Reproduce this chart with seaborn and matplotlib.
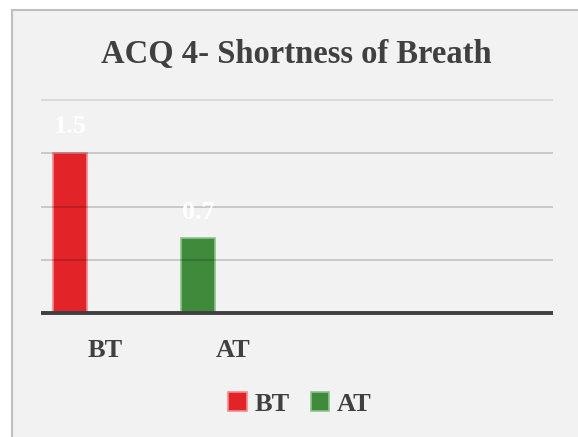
import matplotlib
matplotlib.use("Agg")
import matplotlib.pyplot as plt
import seaborn as sns
from matplotlib.patches import Rectangle, Patch

categories = ["BT", "AT"]
values = [1.5, 0.7]
title = "ACQ 4- Shortness of Breath"
yticks = [0, 0.5, 1.0, 1.5, 2.0]

fill_colors = ["#e22327", "#3f8a3b"]
edge_colors = ["#f28b8d", "#8fc28c"]

sns.set_theme(style="white")
plt.rcParams["font.family"] = ["Liberation Serif", "DejaVu Serif"]

W, H = 578, 437
fig = plt.figure(figsize=(W / 100, H / 100), dpi=100)
fig.patch.set_facecolor("white")

# chart frame
frame = Rectangle((11.5 / W, -10 / H), (W - 11.5 + 10) / W, (H - 9.5 + 10) / H,
                  transform=fig.transFigure, facecolor="#f2f2f2",
                  edgecolor="#bfbfbf", linewidth=1.5, zorder=-10)
fig.patches.append(frame)

ax = fig.add_axes([41 / W, (H - 313) / H, 512 / W, 213 / H])
ax.set_facecolor("none")
ax.set_zorder(2)

sns.barplot(x=categories, y=values, hue=categories, palette=fill_colors,
            width=0.266, legend=False, ax=ax, zorder=2, saturation=1)
for p, ec in zip(ax.patches, edge_colors):
    p.set_edgecolor(ec)
    p.set_linewidth(1.2)

ax.set_xlim(-0.227, 3.773)
ax.set_ylim(0, 2.0)

# gridlines on top, semi-transparent
for yv in yticks[1:]:
    ax.axhline(yv, color="black", alpha=0.12 if yv == yticks[-1] else 0.22,
               linewidth=1.1, zorder=3, clip_on=False, solid_capstyle="butt")
ax.axhline(0, color="#404040", linewidth=2.8, zorder=4, clip_on=False,
           solid_capstyle="butt")

for s in ax.spines.values():
    s.set_visible(False)
ax.set_yticks([])
ax.set_xticks([0.273, 1.273])
ax.set_xticklabels(categories, fontsize=19, fontweight="bold", color="#404040")
ax.tick_params(axis="x", length=0, pad=19)
ax.set_xlabel("")
ax.set_ylabel("")

# data labels
for i, v in enumerate(values):
    ax.annotate(f"{v}", (i, v), xytext=(0, 19), textcoords="offset points",
                ha="center", va="center", fontsize=19, fontweight="bold",
                color="white", zorder=5)

fig.text(296 / W, 1 - 55 / H, title, ha="center", va="center",
         fontsize=23.5, fontweight="bold", color="#404040")

handles = [Patch(facecolor=c, edgecolor=e, linewidth=1.2)
           for c, e in zip(fill_colors, edge_colors)]
leg = fig.legend(handles, categories, loc="center", bbox_to_anchor=(300 / W, 1 - 404 / H),
                 ncol=2, frameon=False, handlelength=0.7, handleheight=0.7,
                 handletextpad=0.3, columnspacing=0.8,
                 prop={"size": 19, "weight": "bold"})
for t in leg.get_texts():
    t.set_color("#404040")

fig.savefig("out.png", dpi=100, facecolor="white")
